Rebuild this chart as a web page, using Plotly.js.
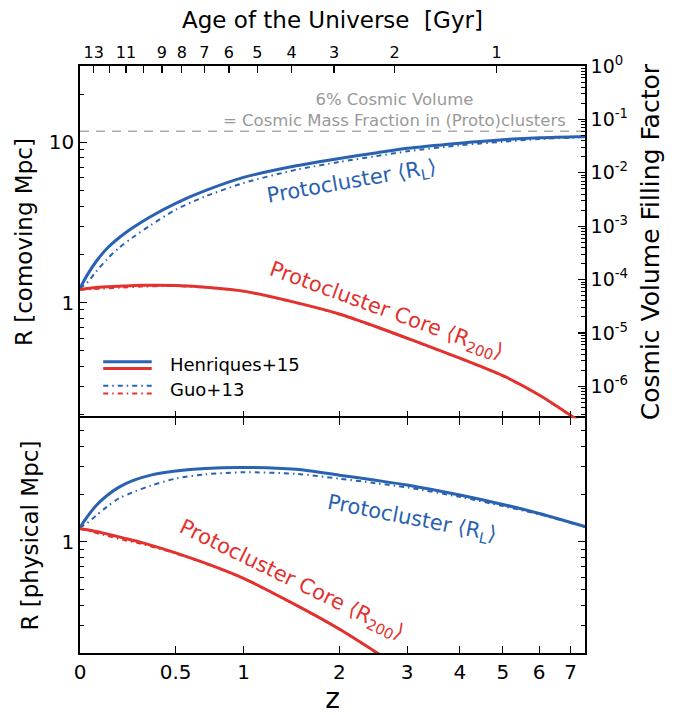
<!DOCTYPE html>
<html>
<head>
<meta charset="utf-8">
<script src="https://cdn.plot.ly/plotly-3.0.1.min.js"></script>
<style>html,body{margin:0;padding:0;background:#fff;}</style>
</head>
<body>
<div id="chart" style="width:676px;height:715px;"></div>
<script>
// ---------- data ----------
// redshift grid for the protocluster (R_L) curves
const zLagr = [0, 0.03, 0.07, 0.12, 0.18, 0.25, 0.35, 0.5, 0.7, 1.0, 1.5, 2.0, 2.5, 3.0, 4.0, 5.0, 6.0, 7.5];
// top panel: comoving R_L [Mpc]
const rlHenriquesComoving = [1.23, 1.48, 1.8, 2.17, 2.54, 2.93, 3.45, 4.17, 5.0, 6.05, 7.15, 7.95, 8.6, 9.2, 9.9, 10.4, 10.7, 10.9];
const rlGuoComoving       = [1.23, 1.33, 1.56, 1.86, 2.2, 2.55, 3.05, 3.8, 4.6, 5.58, 6.75, 7.55, 8.2, 8.8, 9.6, 10.1, 10.5, 10.8];
// bottom panel: physical R_L [Mpc]
const rlHenriquesPhysical = [1.23, 1.43, 1.69, 1.95, 2.21, 2.43, 2.63, 2.79, 2.9, 2.94, 2.86, 2.63, 2.44, 2.28, 1.97, 1.72, 1.51, 1.25];
const rlGuoPhysical       = [1.23, 1.31, 1.46, 1.66, 1.88, 2.05, 2.26, 2.5, 2.66, 2.74, 2.68, 2.5, 2.34, 2.2, 1.92, 1.68, 1.49, 1.24];
// redshift grid for the core (R_200) curves, top panel (comoving)
const zCoreTop = [0, 0.05, 0.1, 0.2, 0.3, 0.5, 0.75, 1.0, 1.5, 2.0, 2.5, 3.0, 4.0, 5.0, 6.0, 7.5];
const r200HenriquesComoving = [1.21, 1.235, 1.25, 1.27, 1.283, 1.28, 1.24, 1.18, 1.0, 0.85, 0.71, 0.6, 0.45, 0.35, 0.265, 0.172];
const r200GuoComoving       = [1.21, 1.215, 1.225, 1.245, 1.26, 1.27, 1.235, 1.175, 0.995, 0.845, 0.705, 0.597, 0.448, 0.348, 0.264, 0.171];
// bottom panel core curves (physical)
const zCoreBottom = [0, 0.05, 0.1, 0.2, 0.3, 0.5, 0.75, 1.0, 1.5, 2.0, 2.5, 3.0];
const r200HenriquesPhysical = [1.21, 1.18, 1.14, 1.06, 0.99, 0.853, 0.709, 0.59, 0.40, 0.283, 0.203, 0.15];
const r200GuoPhysical       = [1.21, 1.16, 1.11, 1.03, 0.97, 0.845, 0.705, 0.588, 0.398, 0.282, 0.202, 0.149];
// cosmic volume fraction of (proto)clusters
const massFractionVolume = 0.06;
// bottom axis ticks (redshift)
const zTicks = [0, 0.5, 1, 2, 3, 4, 5, 6, 7];
const zTickLabels = ['0', '0.5', '1', '2', '3', '4', '5', '6', '7'];
const zMax = 7.5;
// top axis: age of the universe [Gyr] and the redshift where it falls
const ageTicks = [13, 11, 9, 8, 7, 6, 5, 4, 3, 2, 1];
const ageTickZ = [0.060, 0.215, 0.415, 0.540, 0.693, 0.880, 1.120, 1.452, 1.934, 2.793, 4.844];
const ageUnlabelled = [12, 10];
const ageUnlabelledZ = [0.134, 0.307];
// volume filling factor ticks
const volTicks = [1, 1e-1, 1e-2, 1e-3, 1e-4, 1e-5, 1e-6];
const volTickLabels = ['10<sup>0</sup>', '10<sup>-1</sup>', '10<sup>-2</sup>', '10<sup>-3</sup>', '10<sup>-4</sup>', '10<sup>-5</sup>', '10<sup>-6</sup>'];

// ---------- styling ----------
const BLUE = '#2a62b2';
const RED = '#e3312d';
const FONT = 'DejaVu Sans, Verdana, sans-serif';
const DASHDOT = '5px,4px,1.5px,4px';
const onePlus = a => a.map(z => 1 + z);

const xRange = [0, Math.log10(1 + zMax)];
const topYRange = [Math.log10(0.19), Math.log10(30)];
const volRange = [3 * (topYRange[0] - topYRange[1]), 0];
const botYRange = [Math.log10(0.2), Math.log10(6)];

function minorLog(lo, hi) {
  const out = [];
  for (let e = -8; e <= 2; e++) {
    for (let k = 2; k <= 9; k++) {
      const v = k * Math.pow(10, e);
      if (v > lo && v < hi) out.push(v);
    }
  }
  return out;
}

function line(x, y, color, dash, width, xa, ya) {
  return {
    type: 'scatter', mode: 'lines', x: onePlus(x), y: y, xaxis: xa, yaxis: ya,
    line: {color: color, width: width, dash: dash, shape: 'spline', smoothing: 0.8},
    hoverinfo: 'skip', showlegend: false
  };
}

const traces = [
  // 6% volume reference line (on volume axis)
  {type: 'scatter', mode: 'lines', x: [1, 1 + zMax], y: [massFractionVolume, massFractionVolume],
   xaxis: 'x3', yaxis: 'y3', line: {color: '#aaaaaa', width: 1.3, dash: '9px,7px'},
   hoverinfo: 'skip', showlegend: false},
  // top panel
  line(zLagr, rlGuoComoving, BLUE, DASHDOT, 2, 'x2', 'y2'),
  line(zCoreTop, r200GuoComoving, RED, DASHDOT, 2, 'x2', 'y2'),
  line(zLagr, rlHenriquesComoving, BLUE, 'solid', 3, 'x2', 'y2'),
  line(zCoreTop, r200HenriquesComoving, RED, 'solid', 3, 'x2', 'y2'),
  // bottom panel
  line(zLagr, rlGuoPhysical, BLUE, DASHDOT, 2, 'x', 'y'),
  line(zCoreBottom, r200GuoPhysical, RED, DASHDOT, 2, 'x', 'y'),
  line(zLagr, rlHenriquesPhysical, BLUE, 'solid', 3, 'x', 'y'),
  line(zCoreBottom, r200HenriquesPhysical, RED, 'solid', 3, 'x', 'y')
];

const axisCommon = {
  showgrid: false, zeroline: false, showline: true, linecolor: 'black', linewidth: 1.8,
  ticks: 'inside', ticklen: 7, tickwidth: 1.2, tickcolor: 'black',
  tickfont: {family: FONT, size: 20, color: 'black'}
};

const layout = {
  width: 676, height: 715,
  margin: {l: 80, r: 91, t: 66, b: 62, pad: 0},
  paper_bgcolor: 'white', plot_bgcolor: 'white',
  font: {family: FONT, color: 'black'},
  showlegend: false,
  xaxis: Object.assign({}, axisCommon, {
    type: 'log', range: xRange, anchor: 'y', domain: [0, 1],
    tickmode: 'array', tickvals: onePlus(zTicks), ticktext: zTickLabels, mirror: 'ticks',
    title: {text: 'z', font: {family: FONT, size: 28}, standoff: 12}
  }),
  xaxis2: Object.assign({}, axisCommon, {
    type: 'log', range: xRange, anchor: 'y2', domain: [0, 1], showline: false,
    tickmode: 'array', tickvals: onePlus(zTicks), showticklabels: false
  }),
  xaxis3: Object.assign({}, axisCommon, {
    type: 'log', range: xRange, overlaying: 'x2', anchor: 'y2', side: 'top',
    tickmode: 'array', tickvals: onePlus(ageTickZ), ticktext: ageTicks.map(String),
    minor: {tickmode: 'array', tickvals: onePlus(ageUnlabelledZ), ticks: 'inside', ticklen: 7, tickcolor: 'black', tickwidth: 1.2},
    tickfont: {family: FONT, size: 16, color: 'black'},
    title: {text: 'Age of the Universe\u00a0\u00a0[Gyr]', font: {family: FONT, size: 23}, standoff: 8}
  }),
  yaxis: Object.assign({}, axisCommon, {
    type: 'log', range: botYRange, domain: [0, 0.4], anchor: 'x',
    tickmode: 'array', tickvals: [1], ticktext: ['1'], mirror: 'ticks',
    minor: {tickmode: 'array', tickvals: minorLog(0.2, 6), ticks: 'inside', ticklen: 4, tickcolor: 'black', tickwidth: 1},
    title: {text: 'R [physical Mpc]', font: {family: FONT, size: 23}, standoff: 16}
  }),
  yaxis2: Object.assign({}, axisCommon, {
    type: 'log', range: topYRange, domain: [0.4, 1], anchor: 'x2',
    tickmode: 'array', tickvals: [1, 10], ticktext: ['1', '10'], mirror: true,
    minor: {tickmode: 'array', tickvals: minorLog(0.19, 30), ticks: 'inside', ticklen: 4, tickcolor: 'black', tickwidth: 1},
    title: {text: 'R [comoving Mpc]', font: {family: FONT, size: 23}, standoff: 10}
  }),
  yaxis3: Object.assign({}, axisCommon, {
    type: 'log', range: volRange, overlaying: 'y2', anchor: 'x2', side: 'right',
    tickmode: 'array', tickvals: volTicks, ticktext: volTickLabels,
    tickfont: {family: FONT, size: 19, color: 'black'},
    minor: {tickmode: 'array', tickvals: minorLog(Math.pow(10, volRange[0]), 1), ticks: 'inside', ticklen: 4, tickcolor: 'black', tickwidth: 1},
    title: {text: 'Cosmic Volume Filling Factor', font: {family: FONT, size: 25}, standoff: 14}
  }),
  shapes: [
    // legend samples (top panel, lower-left corner)
    {type: 'line', xref: 'x2 domain', yref: 'y2 domain', x0: 0.046, x1: 0.142, y0: 0.160, y1: 0.160, line: {color: BLUE, width: 3}},
    {type: 'line', xref: 'x2 domain', yref: 'y2 domain', x0: 0.046, x1: 0.142, y0: 0.141, y1: 0.141, line: {color: RED, width: 3}},
    {type: 'line', xref: 'x2 domain', yref: 'y2 domain', x0: 0.046, x1: 0.142, y0: 0.092, y1: 0.092, line: {color: BLUE, width: 2, dash: DASHDOT}},
    {type: 'line', xref: 'x2 domain', yref: 'y2 domain', x0: 0.046, x1: 0.142, y0: 0.070, y1: 0.070, line: {color: RED, width: 2, dash: DASHDOT}}
  ],
  annotations: [
    {xref: 'x2 domain', yref: 'y2 domain', x: 0.174, y: 0.152, xanchor: 'left', yanchor: 'middle', showarrow: false,
     text: 'Henriques+15', font: {family: FONT, size: 18, color: 'black'}},
    {xref: 'x2 domain', yref: 'y2 domain', x: 0.174, y: 0.082, xanchor: 'left', yanchor: 'middle', showarrow: false,
     text: 'Guo+13', font: {family: FONT, size: 18, color: 'black'}},
    {xref: 'x2 domain', yref: 'y2 domain', x: 0.622, y: 0.876, xanchor: 'center', yanchor: 'middle', showarrow: false,
     text: '6% Cosmic Volume<br>= Cosmic Mass Fraction in (Proto)clusters', align: 'center',
     font: {family: FONT, size: 16.5, color: '#999999'}},
    {xref: 'x2 domain', yref: 'y2 domain', x: 0.538, y: 0.67, xanchor: 'center', yanchor: 'middle', showarrow: false,
     text: 'Protocluster \u27e8R<sub>L</sub>\u27e9', textangle: -10, font: {family: FONT, size: 21, color: BLUE}},
    {xref: 'x2 domain', yref: 'y2 domain', x: 0.606, y: 0.305, xanchor: 'center', yanchor: 'middle', showarrow: false,
     text: 'Protocluster Core \u27e8R<sub>200</sub>\u27e9', textangle: 20, font: {family: FONT, size: 21, color: RED}},
    {xref: 'x domain', yref: 'y domain', x: 0.657, y: 0.57, xanchor: 'center', yanchor: 'middle', showarrow: false,
     text: 'Protocluster \u27e8R<sub>L</sub>\u27e9', textangle: 11, font: {family: FONT, size: 21, color: BLUE}},
    {xref: 'x domain', yref: 'y domain', x: 0.418, y: 0.31, xanchor: 'center', yanchor: 'middle', showarrow: false,
     text: 'Protocluster Core \u27e8R<sub>200</sub>\u27e9', textangle: 26, font: {family: FONT, size: 21, color: RED}}
  ]
};

Plotly.newPlot('chart', traces, layout, {displayModeBar: false, staticPlot: true});
</script>
</body>
</html>
